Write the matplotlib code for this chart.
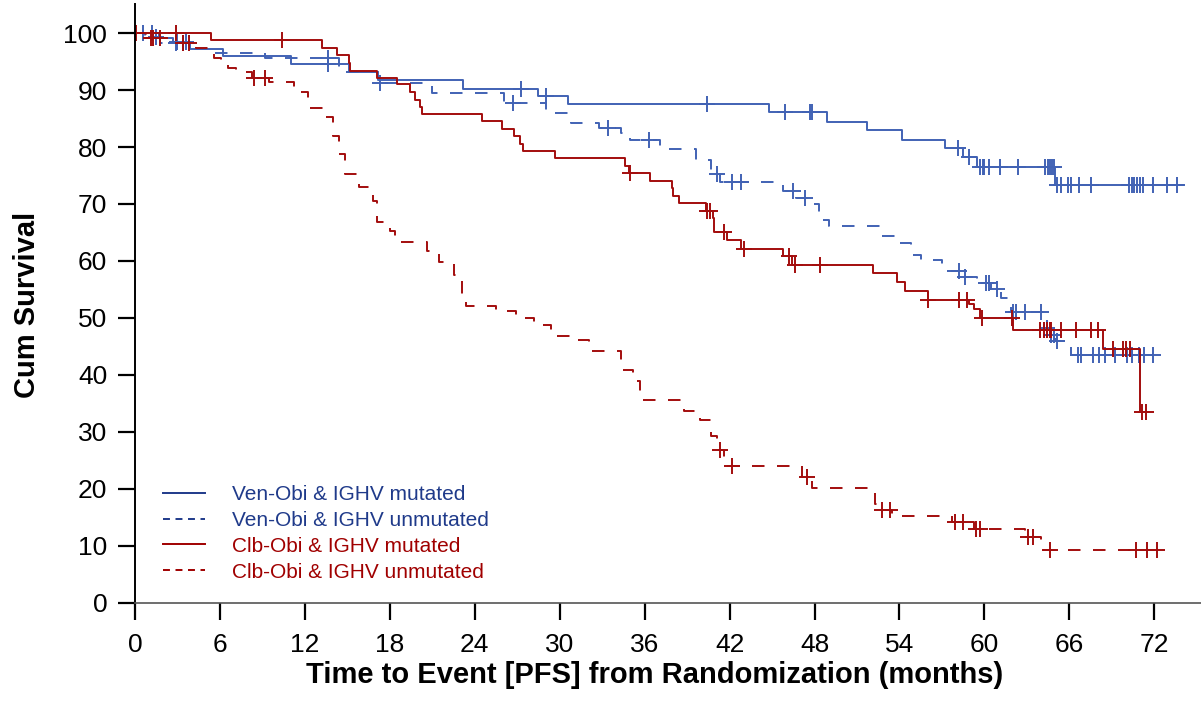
import numpy as np
import matplotlib
matplotlib.use("Agg")
from matplotlib import pyplot as plt
from matplotlib.lines import Line2D

plt.rcParams['font.family'] = ['Liberation Sans', 'DejaVu Sans']
plt.rcParams['lines.scale_dashes'] = False

# Kaplan-Meier steps: event times (months) and survival (%) after each step
vm_times = [0, 1.7, 2.7, 3.9, 6.2, 11.0, 15.1, 17.2, 23.2, 28.5, 30.6, 44.8, 48.9,
            51.7, 54.2, 57.2, 58.5, 59.5, 65.0]
vm_surv = [100, 99.2, 98.5, 97.2, 95.9, 94.5, 93.1, 91.7, 90.2, 89.0, 87.6, 86.1, 84.4,
           82.9, 81.3, 79.8, 78.2, 76.5, 73.4]
vm_end = 74.0
vm_cens = [0.6, 1.2, 3.0, 3.6, 13.6, 27.3, 29.0, 40.4, 45.9, 47.7, 47.8, 58.1, 58.9,
           59.7, 59.9, 60.0, 60.3, 61.1, 62.4, 64.3, 64.5, 64.6, 64.8, 64.9, 65.1, 65.4,
           65.9, 66.1, 66.7, 67.5, 70.2, 70.4, 70.6, 70.8, 71.0, 71.2, 71.9, 72.9, 73.6]

vu_times = [0, 0.7, 1.8, 3.9, 5.5, 9.2, 14.4, 17.2, 21.0, 26.1, 29.0, 30.8, 32.8, 34.3,
            35.0, 37.1, 39.6, 40.7, 41.3, 45.8, 46.7, 47.7, 48.3, 49.0, 52.7, 54.0, 54.8,
            55.5, 57.0, 58.3, 59.5, 60.5, 61.2, 61.9, 64.2, 64.6, 65.0, 66.1]
vu_surv = [100, 99.4, 98.3, 97.2, 96.5, 95.7, 93.1, 91.2, 89.5, 87.7, 86.0, 84.2, 83.4,
           82.4, 81.3, 79.6, 77.8, 75.2, 73.9, 72.2, 71.0, 70.0, 67.2, 66.2, 64.3, 63.2,
           61.0, 60.1, 58.2, 57.2, 56.1, 55.0, 53.5, 51.0, 48.2, 47.0, 46.0, 43.5]
vu_end = 72.2
vu_cens = [1.5, 2.9, 3.4, 13.6, 17.3, 26.7, 33.4, 36.3, 41.1, 42.2, 42.8, 46.5, 47.3,
           58.2, 58.6, 60.1, 60.3, 60.9, 62.0, 62.2, 62.9, 64.0, 64.4, 64.7, 64.9, 65.1,
           66.6, 66.8, 67.7, 68.1, 68.5, 69.2, 70.1, 70.4, 70.9, 71.3, 71.9]

cm_times = [0, 5.4, 13.2, 14.3, 15.1, 15.2, 17.1, 18.5, 19.4, 19.8, 20.1, 20.3, 24.5,
            25.9, 26.8, 27.2, 27.4, 29.7, 34.6, 34.9, 36.4, 37.9, 38.0, 38.4, 40.3, 40.8,
            40.9, 41.8, 42.8, 45.8, 46.4, 52.1, 53.8, 54.4, 56.0, 58.9, 59.3, 59.7, 62.0,
            68.4, 71.0]
cm_surv = [100, 98.7, 97.4, 96.2, 94.7, 93.4, 92.2, 91.0, 89.7, 88.3, 87.0, 85.8, 84.5,
           83.2, 81.9, 80.6, 79.3, 78.0, 76.7, 75.4, 74.1, 72.8, 71.4, 70.2, 68.8, 67.5,
           65.0, 63.6, 62.1, 60.9, 59.3, 57.8, 56.3, 54.7, 53.2, 52.4, 51.5, 49.9, 47.9,
           44.6, 33.5]
cm_end = 71.6
cm_cens = [2.9, 10.4, 34.95, 40.4, 40.6, 41.6, 43.0, 46.2, 46.6, 48.4, 56.05, 58.2, 58.8,
           59.8, 61.95, 63.9, 64.2, 64.4, 64.6, 64.7, 65.4, 66.5, 67.5, 68.0, 69.1, 69.8,
           70.0, 70.3, 71.1, 71.4]

cu_times = [0, 0.8, 2.5, 4.3, 5.6, 6.1, 6.6, 7.1, 8.3, 9.5, 11.2, 11.5, 12.2, 12.3, 13.4,
            14.0, 14.4, 14.8, 15.8, 16.8, 17.1, 18.0, 18.4, 20.6, 21.5, 22.5, 23.1, 23.4,
            25.5, 26.9, 28.2, 29.4, 31.1, 32.1, 34.3, 35.2, 35.7, 38.8, 39.9, 40.7, 41.1,
            41.6, 47.1, 47.8, 52.3, 52.5, 53.5, 57.7, 59.3, 62.9, 64.0]
cu_surv = [100, 99.2, 98.2, 97.4, 95.6, 94.7, 93.8, 93.1, 92.2, 91.4, 90.4, 89.6, 88.3,
           86.9, 85.2, 81.9, 78.7, 75.2, 72.9, 70.6, 66.9, 65.2, 63.4, 61.7, 59.9, 57.5,
           54.0, 52.1, 51.2, 50.0, 48.7, 46.9, 46.2, 44.2, 40.9, 38.9, 35.5, 33.6, 32.0,
           29.3, 26.8, 24.0, 22.1, 20.2, 17.3, 16.3, 15.2, 14.1, 13.0, 11.5, 9.2]
cu_end = 72.5
cu_cens = [0.1, 1.1, 1.3, 1.8, 3.4, 3.8, 8.4, 9.2, 41.3, 42.2, 47.5, 52.8, 53.3, 57.9,
           58.5, 59.4, 59.7, 63.1, 63.4, 64.6, 70.7, 71.5, 72.2]

labels = ['Ven-Obi & IGHV mutated', 'Ven-Obi & IGHV unmutated',
          'Clb-Obi & IGHV mutated', 'Clb-Obi & IGHV unmutated']

blue = '#4162b4'
red = '#a30d0d'
navy = '#1f3a8a'
darkred = '#a00000'

fig = plt.figure(figsize=(12.01, 7.2), dpi=100)
ax = fig.add_axes([0.1124, 0.1629, 0.8876, 0.8315])


def km(times, surv, end, cens, color, dashed):
    t = np.array(times + [end])
    s = np.array(surv + [surv[-1]])
    ls = (0, (9, 9)) if dashed else '-'
    ax.step(t, s, where='post', color=color, lw=1.4, linestyle=ls)
    c = np.array(cens)
    idx = np.searchsorted(times, c, side='right') - 1
    ax.plot(c, np.array(surv)[idx], linestyle='none', marker='+', ms=11,
            mew=1.4, color=color)


km(vm_times, vm_surv, vm_end, vm_cens, blue, False)
km(vu_times, vu_surv, vu_end, vu_cens, blue, True)
km(cm_times, cm_surv, cm_end, cm_cens, red, False)
km(cu_times, cu_surv, cu_end, cu_cens, red, True)

ax.set_xlim(0, 75.3)
ax.set_ylim(0, 105.1)
ax.set_xticks(np.arange(0, 73, 6))
ax.set_yticks(np.arange(0, 101, 10))
ax.tick_params(axis='both', labelsize=19, width=1.6, length=12, direction='out')
ax.tick_params(axis='x', pad=10)
ax.tick_params(axis='y', pad=8)
for s in ['top', 'right']:
    ax.spines[s].set_visible(False)
ax.spines['left'].set_linewidth(1.4)
ax.spines['bottom'].set_linewidth(1.2)
ax.spines['bottom'].set_color('#555555')

fig.text(655 / 1201, 1 - 675 / 720, 'Time to Event [PFS] from Randomization (months)',
         ha='center', va='center', fontsize=21, fontweight='bold')
fig.text(27 / 1201, 1 - 305 / 720, 'Cum Survival', ha='center', va='center',
         rotation=90, fontsize=21, fontweight='bold')

handles = [Line2D([], [], color=navy, lw=1.4),
           Line2D([], [], color=navy, lw=1.4, linestyle=(0, (5, 4))),
           Line2D([], [], color=darkred, lw=1.4),
           Line2D([], [], color=darkred, lw=1.4, linestyle=(0, (5, 4)))]
leg = ax.legend(handles, labels, loc='upper left', bbox_to_anchor=(0.009, 0.228),
                frameon=False, fontsize=15, handlelength=2.0, handletextpad=1.3,
                labelspacing=0.33, labelcolor=[navy, navy, darkred, darkred])

fig.savefig('out.png', dpi=100)
